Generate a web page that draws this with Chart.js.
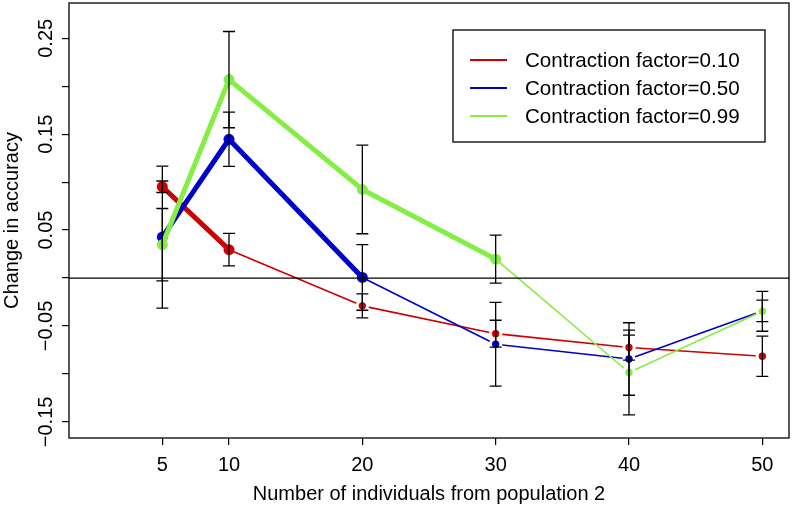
<!DOCTYPE html>
<html>
<head>
<meta charset="utf-8">
<script src="https://cdn.jsdelivr.net/npm/chart.js@4.4.1/dist/chart.umd.min.js"></script>
<style>
  html, body { margin: 0; padding: 0; background: #fff; }
  #box { width: 793px; height: 508px; }
</style>
</head>
<body>
<div id="box"><canvas id="grafico"></canvas></div>
<script>
// dados
var tamanhos = [5, 10, 20, 30, 40, 50]
var ticksX = [5, 10, 20, 30, 40, 50]
var ticksY = [-0.15, -0.10, -0.05, 0.00, 0.05, 0.10, 0.15, 0.20, 0.25]
var rotulosY = [-0.15, -0.05, 0.05, 0.15, 0.25]
var legendas = ['Contraction factor=0.10', 'Contraction factor=0.50', 'Contraction factor=0.99']

var fator010 = [0.0952, 0.0296, -0.0290, -0.0580, -0.0725, -0.0816]
var erro010 = [0.006, 0.017, 0.0125, 0.014, 0.013, 0.021]
var fator050 = [0.0427, 0.1447, 0.0006, -0.0690, -0.0844, -0.0343]
var erro050 = [0.074, 0.0283, 0.0342, 0.0437, 0.0378, 0.0112]
var fator099 = [0.0348, 0.2069, 0.0924, 0.0197, -0.0985, -0.0347]
var erro099 = [0.0377, 0.0502, 0.0462, 0.0250, 0.0442, 0.0208]

var cores = ['#CD0000', '#0000CD', '#84EE44']
var fonte = 'Liberation Sans, Arial, Helvetica, sans-serif'

function pontos(valores){
    var lista = []
    for (let i = 0; i < tamanhos.length; i++) {
        lista.push({x: tamanhos[i], y: valores[i]})
    }
    return lista
}

function serie(indice, valores, grossoAte){
    return {
        label: legendas[indice],
        data: pontos(valores),
        borderColor: cores[indice],
        backgroundColor: cores[indice],
        borderWidth: 1.6,
        borderJoinStyle: 'round',
        borderCapStyle: 'round',
        tension: 0,
        order: 3 - indice,
        segment: {
            borderWidth: ctx => ctx.p0DataIndex < grossoAte ? 5 : 1.6
        },
        pointRadius: ctx => ctx.dataIndex <= grossoAte ? 5.5 : 5.2,
        pointBorderWidth: ctx => ctx.dataIndex <= grossoAte ? 0 : 3,
        pointBorderColor: '#ffffff',
        pointBackgroundColor: cores[indice],
        pointHoverRadius: 0
    }
}

var erros = [erro010, erro050, erro099]
var medias = [fator010, fator050, fator099]

var extras = {
    id: 'extras',
    afterDatasetsDraw(chart){
        var c = chart.ctx
        var sx = chart.scales.x
        var sy = chart.scales.y
        var area = chart.chartArea
        c.save()
        c.strokeStyle = '#000'
        c.lineWidth = 1.3
        // barras de erro
        for (let s = 0; s < medias.length; s++) {
            for (let i = 0; i < tamanhos.length; i++) {
                let px = sx.getPixelForValue(tamanhos[i])
                let cima = sy.getPixelForValue(medias[s][i] + erros[s][i])
                let baixo = sy.getPixelForValue(medias[s][i] - erros[s][i])
                c.beginPath()
                c.moveTo(px, cima); c.lineTo(px, baixo)
                c.moveTo(px - 6, cima); c.lineTo(px + 6, cima)
                c.moveTo(px - 6, baixo); c.lineTo(px + 6, baixo)
                c.stroke()
            }
        }
        // linha do zero
        let zero = sy.getPixelForValue(0)
        c.lineWidth = 1.2
        c.beginPath()
        c.moveTo(area.left, zero); c.lineTo(area.right, zero)
        c.stroke()
        c.restore()
    },
    afterDraw(chart){
        var c = chart.ctx
        var sy = chart.scales.y
        var area = chart.chartArea
        c.save()
        c.strokeStyle = '#000'
        c.lineWidth = 1.3
        c.strokeRect(area.left, area.top, area.right - area.left, area.bottom - area.top)

        // rotulos do eixo y (girados)
        c.fillStyle = '#000'
        c.font = '20px ' + fonte
        c.textAlign = 'center'
        c.textBaseline = 'alphabetic'
        for (let i = 0; i < rotulosY.length; i++) {
            let py = sy.getPixelForValue(rotulosY[i])
            c.save()
            c.translate(52, py)
            c.rotate(-Math.PI / 2)
            c.fillText(rotulosY[i].toFixed(2).replace('-', '\u2212'), 0, 0)
            c.restore()
        }

        // legenda
        var lx = 453, ly = 30, lw = 312, lh = 112
        c.fillStyle = '#fff'
        c.fillRect(lx, ly, lw, lh)
        c.lineWidth = 1.3
        c.strokeRect(lx, ly, lw, lh)
        c.font = '20.6px ' + fonte
        c.textAlign = 'left'
        c.textBaseline = 'middle'
        for (let i = 0; i < legendas.length; i++) {
            let yy = 60 + i * 28
            c.strokeStyle = cores[i]
            c.lineWidth = 2
            c.beginPath()
            c.moveTo(470, yy); c.lineTo(507, yy)
            c.stroke()
            c.fillStyle = '#000'
            c.fillText(legendas[i], 525, yy + 1)
        }
        c.restore()
    }
}

const ctx = document.getElementById('grafico')

var grafico = new Chart(ctx, {
    type: 'line',
    data: {
        datasets: [
            serie(0, fator010, 1),
            serie(1, fator050, 2),
            serie(2, fator099, 3)
        ]
    },
    options: {
        responsive: true,
        maintainAspectRatio: false,
        animation: false,
        layout: { autoPadding: false, padding: { top: 3, right: 4, left: 0, bottom: 0 } },
        scales: {
            x: {
                type: 'linear',
                min: -2,
                max: 52,
                afterBuildTicks: function(scale){
                    scale.ticks = ticksX.map(v => ({ value: v }))
                },
                afterFit: function(scale){ scale.height = 70 },
                grid: { drawOnChartArea: false, drawTicks: true, tickLength: 7, color: '#000', lineWidth: 1.2 },
                border: { display: false },
                ticks: {
                    color: '#000',
                    font: { family: fonte, size: 20 },
                    padding: 8,
                    maxRotation: 0,
                    autoSkip: false,
                    callback: v => String(v)
                },
                title: {
                    display: true,
                    text: 'Number of individuals from population 2',
                    color: '#000',
                    font: { family: fonte, size: 20, lineHeight: 1.2 },
                    padding: { top: 0, bottom: 2 }
                }
            },
            y: {
                min: -0.1668,
                max: 0.2868,
                afterBuildTicks: function(scale){
                    scale.ticks = ticksY.map(v => ({ value: v }))
                },
                afterFit: function(scale){ scale.width = 69 },
                grid: { drawOnChartArea: false, drawTicks: true, tickLength: 7, color: '#000', lineWidth: 1.2 },
                border: { display: false },
                ticks: { display: false },
                title: {
                    display: true,
                    text: 'Change in accuracy',
                    color: '#000',
                    font: { family: fonte, size: 20, lineHeight: 1.25 },
                    padding: { top: 0, bottom: 0 }
                }
            }
        },
        plugins: {
            legend: { display: false },
            tooltip: { enabled: false }
        }
    },
    plugins: [extras]
});
</script>
</body>
</html>
